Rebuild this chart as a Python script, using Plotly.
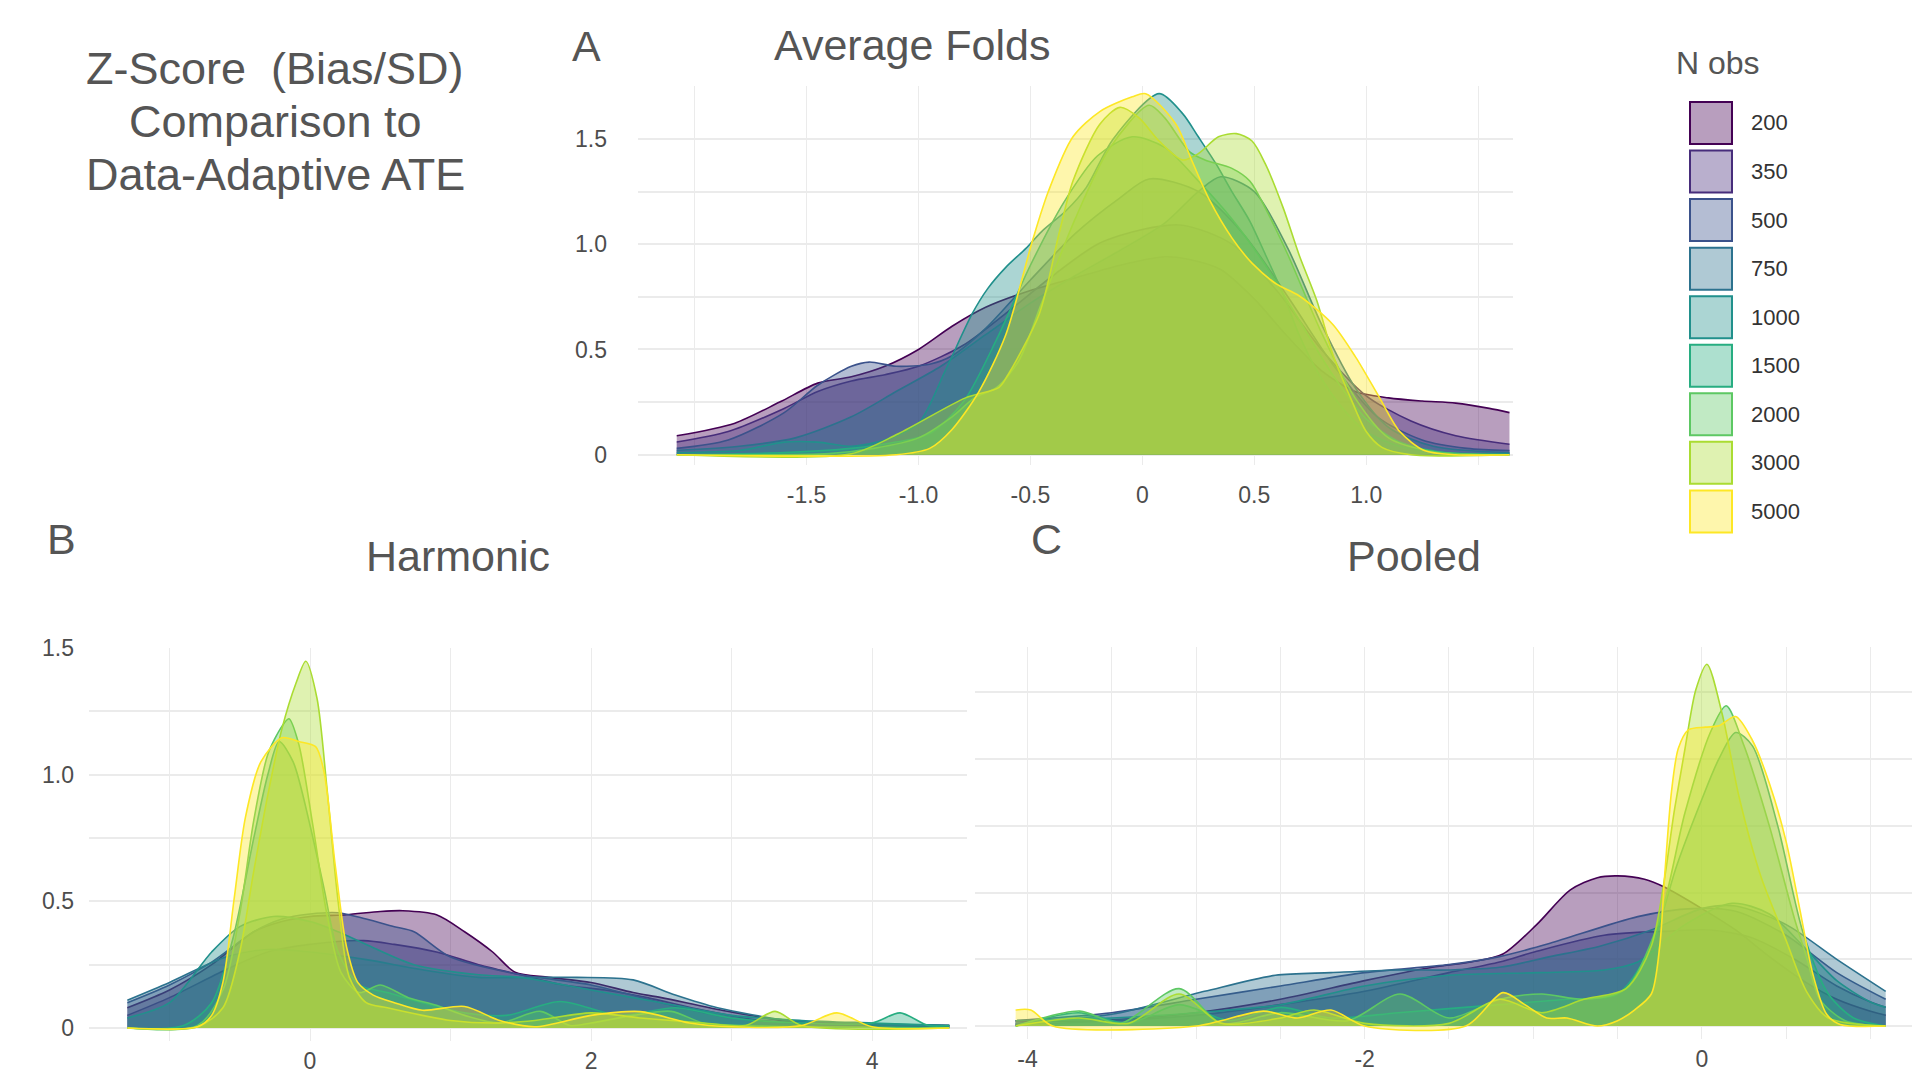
import plotly.graph_objects as go

N_OBS = [200, 350, 500, 750, 1000, 1500, 2000, 3000, 5000]
COLORS = ['#440154', '#472D7B', '#3B528B', '#2C728E', '#21908C',
          '#27AD81', '#5DC863', '#AADC32', '#FDE725']

# density curves, (z-score, density) per N obs
avg_folds = {
    200: [(-2.08, 0.09), (-1.82, 0.15), (-1.62, 0.25), (-1.45, 0.34), (-1.3, 0.37), (-1.15, 0.42),
          (-1.0, 0.5), (-0.85, 0.61), (-0.7, 0.7), (-0.5, 0.78), (-0.3, 0.84), (-0.1, 0.9), (0.1, 0.94),
          (0.2, 0.93), (0.35, 0.88), (0.5, 0.74), (0.65, 0.56), (0.8, 0.4), (0.95, 0.3), (1.1, 0.27),
          (1.25, 0.255), (1.4, 0.245), (1.55, 0.22), (1.64, 0.2)],
    350: [(-2.08, 0.06), (-1.85, 0.11), (-1.6, 0.22), (-1.45, 0.3), (-1.3, 0.35), (-1.15, 0.38),
          (-1.0, 0.42), (-0.8, 0.52), (-0.6, 0.68), (-0.4, 0.85), (-0.2, 1.0), (0.0, 1.07), (0.18, 1.09),
          (0.4, 1.0), (0.6, 0.78), (0.8, 0.5), (1.0, 0.28), (1.2, 0.16), (1.4, 0.09), (1.64, 0.05)],
    500: [(-2.08, 0.03), (-1.85, 0.07), (-1.6, 0.2), (-1.45, 0.33), (-1.3, 0.42), (-1.22, 0.44),
          (-1.1, 0.42), (-0.95, 0.43), (-0.85, 0.47), (-0.7, 0.6), (-0.5, 0.83), (-0.3, 1.05),
          (-0.1, 1.22), (0.03, 1.31), (0.25, 1.25), (0.45, 1.05), (0.65, 0.75), (0.85, 0.43),
          (1.05, 0.18), (1.25, 0.07), (1.45, 0.03), (1.64, 0.02)],
    750: [(-2.08, 0.02), (-1.8, 0.04), (-1.55, 0.08), (-1.3, 0.18), (-1.1, 0.3), (-0.9, 0.42),
          (-0.7, 0.57), (-0.5, 0.72), (-0.3, 0.85), (-0.1, 0.97), (0.1, 1.1), (0.25, 1.25),
          (0.35, 1.32), (0.5, 1.25), (0.65, 0.98), (0.8, 0.62), (0.95, 0.32), (1.1, 0.13),
          (1.3, 0.04), (1.64, 0.01)],
    1000: [(-2.08, 0.01), (-1.8, 0.02), (-1.6, 0.06), (-1.45, 0.06), (-1.3, 0.04), (-1.15, 0.07),
           (-1.0, 0.15), (-0.88, 0.4), (-0.76, 0.67), (-0.69, 0.79), (-0.61, 0.89), (-0.52, 0.98),
           (-0.45, 1.06), (-0.34, 1.16), (-0.25, 1.27), (-0.13, 1.5), (0.075, 1.715), (0.18, 1.62),
           (0.25, 1.51), (0.33, 1.38), (0.4, 1.25), (0.48, 1.11), (0.55, 0.95), (0.63, 0.76),
           (0.7, 0.57), (0.79, 0.38), (0.88, 0.24), (1.0, 0.11), (1.15, 0.04), (1.35, 0.01),
           (1.64, 0.005)],
    1500: [(-2.08, 0.0), (-1.6, 0.01), (-1.3, 0.03), (-1.1, 0.06), (-0.95, 0.1), (-0.8, 0.25),
           (-0.65, 0.55), (-0.5, 0.9), (-0.35, 1.2), (-0.2, 1.42), (-0.045, 1.51), (0.1, 1.46),
           (0.25, 1.3), (0.4, 1.12), (0.55, 0.9), (0.7, 0.64), (0.85, 0.38), (1.0, 0.17),
           (1.15, 0.06), (1.35, 0.01), (1.64, 0.0)],
    2000: [(-2.08, 0.0), (-1.4, 0.005), (-1.2, 0.03), (-1.0, 0.08), (-0.85, 0.18), (-0.75, 0.27),
           (-0.65, 0.32), (-0.55, 0.45), (-0.45, 0.72), (-0.3, 1.12), (-0.15, 1.45), (0.03, 1.66),
           (0.1, 1.6), (0.21, 1.44), (0.28, 1.4), (0.4, 1.36), (0.48, 1.3), (0.55, 1.17),
           (0.65, 0.95), (0.8, 0.58), (0.95, 0.27), (1.1, 0.08), (1.3, 0.015), (1.64, 0.0)],
    3000: [(-2.08, 0.0), (-1.3, 0.005), (-1.09, 0.1), (-0.79, 0.27), (-0.64, 0.32), (-0.6, 0.38),
           (-0.46, 0.67), (-0.37, 1.06), (-0.31, 1.3), (-0.19, 1.57), (-0.1, 1.65), (-0.015, 1.6),
           (0.075, 1.49), (0.18, 1.4), (0.25, 1.43), (0.34, 1.51), (0.42, 1.525), (0.49, 1.49),
           (0.55, 1.38), (0.63, 1.17), (0.7, 0.95), (0.78, 0.73), (0.85, 0.48), (0.93, 0.27),
           (1.0, 0.11), (1.07, 0.035), (1.2, 0.0), (1.64, 0.0)],
    5000: [(-2.08, 0.0), (-1.1, 0.0), (-0.95, 0.03), (-0.85, 0.12), (-0.73, 0.3), (-0.61, 0.57),
           (-0.49, 1.02), (-0.42, 1.25), (-0.31, 1.51), (-0.19, 1.63), (-0.045, 1.7), (0.015, 1.715),
           (0.15, 1.57), (0.22, 1.4), (0.3, 1.21), (0.4, 1.03), (0.49, 0.91), (0.6, 0.81),
           (0.7, 0.755), (0.85, 0.62), (0.955, 0.46), (1.06, 0.27), (1.15, 0.11), (1.26, 0.02),
           (1.4, 0.0), (1.64, 0.0)],
}

harmonic = {
    200: [(-1.3, 0.08), (-1.0, 0.15), (-0.7, 0.25), (-0.4, 0.38), (-0.2, 0.42), (0.0, 0.44),
          (0.26, 0.447), (0.5, 0.46), (0.66, 0.463), (0.9, 0.447), (1.1, 0.38), (1.3, 0.3),
          (1.46, 0.22), (1.7, 0.2), (2.0, 0.18), (2.3, 0.14), (2.5, 0.12), (2.97, 0.066),
          (3.5, 0.02), (4.0, 0.015), (4.55, 0.01)],
    350: [(-1.3, 0.05), (-1.0, 0.12), (-0.6, 0.23), (-0.3, 0.3), (0.0, 0.33), (0.38, 0.345),
          (0.6, 0.33), (0.9, 0.3), (1.2, 0.25), (1.5, 0.21), (1.8, 0.17), (2.1, 0.15), (2.4, 0.12),
          (2.8, 0.07), (3.2, 0.03), (3.6, 0.015), (4.55, 0.005)],
    500: [(-1.3, 0.1), (-1.0, 0.17), (-0.7, 0.26), (-0.4, 0.38), (-0.2, 0.43), (0.0, 0.45),
          (0.2, 0.455), (0.4, 0.43), (0.6, 0.4), (0.74, 0.38), (1.0, 0.28), (1.5, 0.21),
          (2.0, 0.17), (2.5, 0.1), (3.0, 0.04), (3.5, 0.02), (4.55, 0.01)],
    750: [(-1.3, 0.11), (-1.0, 0.18), (-0.6, 0.28), (-0.3, 0.31), (0.0, 0.3), (0.4, 0.27),
          (0.8, 0.23), (1.2, 0.2), (1.6, 0.2), (1.9, 0.2), (2.3, 0.19), (2.6, 0.13), (2.9, 0.08),
          (3.4, 0.03), (3.8, 0.02), (4.55, 0.01)],
    1000: [(-1.3, 0.04), (-1.0, 0.1), (-0.7, 0.3), (-0.5, 0.4), (-0.26, 0.44), (0.0, 0.42),
           (0.2, 0.38), (0.4, 0.33), (0.74, 0.25), (1.2, 0.21), (1.5, 0.2), (2.0, 0.15),
           (2.5, 0.1), (3.0, 0.05), (3.5, 0.03), (4.0, 0.02), (4.55, 0.01)],
    1500: [(-1.3, 0.0), (-0.9, 0.01), (-0.7, 0.1), (-0.55, 0.35), (-0.4, 0.75), (-0.3, 1.0),
           (-0.22, 1.13), (-0.12, 1.05), (0.0, 0.8), (0.1, 0.55), (0.2, 0.3), (0.35, 0.17),
           (0.55, 0.14), (0.8, 0.1), (1.1, 0.06), (1.4, 0.05), (1.78, 0.105), (2.2, 0.05),
           (2.6, 0.08), (3.0, 0.04), (3.5, 0.02), (4.0, 0.02), (4.2, 0.06), (4.4, 0.01),
           (4.55, 0.01)],
    2000: [(-1.3, 0.0), (-0.8, 0.01), (-0.62, 0.15), (-0.5, 0.45), (-0.4, 0.82), (-0.3, 1.08),
           (-0.2, 1.19), (-0.15, 1.22), (-0.08, 1.12), (0.02, 0.8), (0.12, 0.45), (0.22, 0.22),
           (0.35, 0.14), (0.5, 0.17), (0.7, 0.12), (0.9, 0.09), (1.1, 0.05), (1.35, 0.02),
           (1.64, 0.066), (1.85, 0.01), (2.0, 0.02), (2.3, 0.05), (2.57, 0.066), (2.8, 0.02),
           (3.1, 0.01), (3.5, 0.005), (4.55, 0.0)],
    3000: [(-1.3, 0.0), (-0.8, 0.005), (-0.62, 0.08), (-0.5, 0.3), (-0.4, 0.62), (-0.3, 0.92),
           (-0.2, 1.18), (-0.1, 1.36), (-0.03, 1.447), (0.05, 1.3), (0.12, 0.95), (0.2, 0.5),
           (0.28, 0.2), (0.4, 0.1), (0.55, 0.08), (0.8, 0.05), (1.0, 0.03), (1.3, 0.02),
           (1.6, 0.03), (2.0, 0.06), (2.35, 0.04), (2.8, 0.02), (3.1, 0.01), (3.31, 0.066),
           (3.5, 0.01), (4.55, 0.0)],
    5000: [(-1.3, 0.0), (-0.8, 0.005), (-0.7, 0.05), (-0.62, 0.18), (-0.54, 0.51), (-0.46, 0.83),
           (-0.35, 1.05), (-0.2, 1.145), (-0.08, 1.13), (0.04, 1.11), (0.1, 1.01), (0.18, 0.64),
           (0.26, 0.32), (0.34, 0.18), (0.45, 0.13), (0.6, 0.1), (0.8, 0.07), (1.1, 0.085),
           (1.35, 0.03), (1.6, 0.005), (2.0, 0.05), (2.35, 0.065), (2.7, 0.02), (3.0, 0.005),
           (3.5, 0.01), (3.75, 0.06), (4.0, 0.005), (4.55, 0.0)],
}

pooled = {
    200: [(-4.07, 0.02), (-3.6, 0.02), (-3.0, 0.05), (-2.5, 0.1), (-2.0, 0.17), (-1.6, 0.22),
          (-1.37, 0.24), (-1.18, 0.27), (-0.98, 0.38), (-0.78, 0.51), (-0.62, 0.556), (-0.5, 0.5625),
          (-0.34, 0.55), (-0.22, 0.52), (0.0, 0.44), (0.2, 0.36), (0.4, 0.26), (0.6, 0.17),
          (0.8, 0.1), (1.0, 0.055), (1.09, 0.04)],
    350: [(-4.07, 0.005), (-3.5, 0.02), (-3.0, 0.04), (-2.5, 0.08), (-2.0, 0.13), (-1.5, 0.2),
          (-1.2, 0.24), (-0.98, 0.28), (-0.58, 0.34), (-0.18, 0.356), (0.05, 0.36), (0.3, 0.33),
          (0.55, 0.25), (0.8, 0.15), (1.0, 0.09), (1.09, 0.07)],
    500: [(-4.07, 0.02), (-3.5, 0.05), (-3.0, 0.1), (-2.5, 0.15), (-2.0, 0.2), (-1.5, 0.23),
          (-1.2, 0.26), (-0.9, 0.31), (-0.38, 0.41), (-0.06, 0.44), (0.2, 0.43), (0.5, 0.34),
          (0.8, 0.2), (1.09, 0.1)],
    750: [(-4.07, 0.01), (-3.5, 0.044), (-2.95, 0.13), (-2.53, 0.19), (-2.2, 0.2), (-1.82, 0.21),
          (-1.5, 0.21), (-1.2, 0.22), (-0.9, 0.26), (-0.6, 0.3), (-0.3, 0.36), (0.0, 0.44),
          (0.2, 0.45), (0.5, 0.38), (0.8, 0.25), (1.09, 0.13)],
    1000: [(-4.07, 0.02), (-3.5, 0.03), (-3.0, 0.05), (-2.5, 0.08), (-2.0, 0.15), (-1.5, 0.19),
           (-0.98, 0.2), (-0.58, 0.21), (-0.38, 0.24), (-0.1, 0.38), (0.18, 0.46), (0.4, 0.42),
           (0.6, 0.3), (0.8, 0.17), (1.0, 0.09), (1.09, 0.07)],
    1500: [(-4.07, 0.0), (-3.7, 0.05), (-3.4, 0.01), (-3.1, 0.08), (-2.8, 0.02), (-2.5, 0.07),
           (-2.2, 0.03), (-1.8, 0.05), (-1.2, 0.08), (-0.8, 0.1), (-0.5, 0.12), (-0.3, 0.3),
           (-0.15, 0.6), (0.0, 0.85), (0.1, 1.0), (0.2, 1.1), (0.3, 1.05), (0.45, 0.75),
           (0.6, 0.35), (0.75, 0.12), (0.9, 0.03), (1.09, 0.0)],
    2000: [(-4.07, 0.0), (-3.69, 0.056), (-3.45, 0.01), (-3.1, 0.14), (-2.85, 0.01), (-2.5, 0.05),
           (-2.1, 0.02), (-1.79, 0.12), (-1.5, 0.03), (-1.2, 0.1), (-0.95, 0.12), (-0.7, 0.1),
           (-0.45, 0.14), (-0.25, 0.4), (-0.1, 0.8), (0.05, 1.1), (0.144, 1.2), (0.25, 1.05),
           (0.4, 0.75), (0.55, 0.4), (0.62, 0.26), (0.7, 0.1), (0.85, 0.02), (1.09, 0.0)],
    3000: [(-4.07, 0.0), (-3.7, 0.03), (-3.4, 0.01), (-3.1, 0.12), (-2.85, 0.01), (-2.5, 0.03),
           (-2.3, 0.06), (-2.0, 0.01), (-1.5, 0.01), (-1.2, 0.1), (-0.95, 0.05), (-0.7, 0.1),
           (-0.45, 0.14), (-0.3, 0.3), (-0.16, 0.82), (-0.1, 1.04), (-0.036, 1.26), (0.03, 1.356),
           (0.12, 1.17), (0.22, 0.86), (0.35, 0.56), (0.5, 0.32), (0.62, 0.13), (0.75, 0.03),
           (1.09, 0.0)],
    5000: [(-4.07, 0.06), (-3.98, 0.06), (-3.85, 0.0), (-3.0, 0.0), (-2.6, 0.056), (-2.4, 0.03),
           (-2.2, 0.06), (-2.0, 0.0), (-1.4, 0.0), (-1.18, 0.125), (-1.05, 0.08), (-0.92, 0.03),
           (-0.8, 0.03), (-0.62, 0.0), (-0.5, 0.02), (-0.4, 0.06), (-0.3, 0.12), (-0.25, 0.3),
           (-0.22, 0.57), (-0.18, 0.88), (-0.14, 1.04), (-0.08, 1.11), (0.02, 1.12), (0.1, 1.125),
           (0.2, 1.16), (0.3, 1.07), (0.4, 0.91), (0.5, 0.69), (0.58, 0.44), (0.66, 0.19),
           (0.74, 0.044), (0.82, 0.006), (1.09, 0.0)],
}

TITLE_LINES = ['Z-Score \u00a0(Bias/SD)', 'Comparison to', 'Data-Adaptive ATE']

FONT = 'Liberation Sans, Arial, sans-serif'
TITLE_COLOR = '#555555'
TICK_COLOR = '#4d4d4d'
GRID = '#ebebeb'
W, H = 1920, 1080
PAGE = 8  # the page margin the browser puts round the plot div


def rgba(hex_color, alpha):
    h = hex_color.lstrip('#')
    r, g, b = int(h[0:2], 16), int(h[2:4], 16), int(h[4:6], 16)
    return 'rgba({},{},{},{})'.format(r, g, b, alpha)


def xdom(left, right):
    return [(left - PAGE) / W, min(1.0, (right - PAGE) / W)]


def ydom(top, bottom):
    # top / bottom given in figure pixels
    return [1 - bottom / H, 1 - top / H]


def addPanel(fig, curves, xaxis, yaxis):
    for n, color in zip(N_OBS, COLORS):
        pts = curves[n]
        fig.add_trace(go.Scatter(
            x=[p[0] for p in pts], y=[p[1] for p in pts],
            mode='lines', line=dict(color=color, width=1.6, shape='spline', smoothing=0.8),
            fill='tozeroy', fillcolor=rgba(color, 0.38),
            xaxis=xaxis, yaxis=yaxis, showlegend=False, hoverinfo='skip'))


def main():
    fig = go.Figure()
    addPanel(fig, avg_folds, 'x', 'y')
    addPanel(fig, harmonic, 'x2', 'y2')
    addPanel(fig, pooled, 'x3', 'y3')

    # legend drawn as its own little panel
    fig.add_trace(go.Scatter(
        x=[0] * len(N_OBS), y=list(range(len(N_OBS))), mode='markers',
        marker=dict(symbol='square', size=42, color=[rgba(c, 0.38) for c in COLORS],
                    line=dict(color=COLORS, width=2)),
        xaxis='x4', yaxis='y4', showlegend=False, hoverinfo='skip'))

    tickfont = dict(family=FONT, size=23, color=TICK_COLOR)
    common = dict(showline=False, zeroline=False, ticks='', tickfont=tickfont, fixedrange=True)
    xgrid = dict(showgrid=True, gridcolor=GRID, gridwidth=1)
    ygrid = dict(showgrid=True, gridcolor=GRID, gridwidth=1.6)

    fig.update_layout(
        width=W, height=H,
        paper_bgcolor='white', plot_bgcolor='white',
        margin=dict(l=0, r=0, t=0, b=0),
        xaxis=dict(domain=xdom(638, 1512.6), range=[-2.253, 1.654], anchor='y',
                   tickmode='array', tickvals=[-2, -1.5, -1, -0.5, 0, 0.5, 1, 1.5],
                   ticktext=['', '-1.5', '-1.0', '-0.5', '0', '0.5', '1.0', ''],
                   ticklabelstandoff=14, **xgrid, **common),
        yaxis=dict(domain=ydom(66.2, 450.5), range=[-0.05, 1.75], anchor='x',
                   tickmode='array', tickvals=[0, 0.25, 0.5, 0.75, 1, 1.25, 1.5, 1.75],
                   ticktext=['0', '', '0.5', '', '1.0', '', '1.5', ''],
                   ticklabelstandoff=30, **ygrid, **common),
        xaxis2=dict(domain=xdom(89, 967), range=[-1.573, 4.676], anchor='y2',
                    tickmode='array', tickvals=[-1, 0, 1, 2, 3, 4],
                    ticktext=['', '0', '', '2', '', '4'],
                    ticklabelstandoff=4, **xgrid, **common),
        yaxis2=dict(domain=ydom(635.6, 1034.1), range=[-0.05, 1.5], anchor='x2',
                    tickmode='array', tickvals=[0, 0.25, 0.5, 0.75, 1, 1.25, 1.5],
                    ticktext=['0', '', '0.5', '', '1.0', '', '1.5'],
                    ticklabelstandoff=14, **ygrid, **common),
        xaxis3=dict(domain=xdom(975, 1928), range=[-4.311, 1.341], anchor='y3',
                    tickmode='array', tickvals=[-4, -3.5, -3, -2.5, -2, -1.5, -1, -0.5, 0, 0.5, 1],
                    ticktext=['-4', '', '', '', '-2', '', '', '', '0', '', ''],
                    ticklabelstandoff=4, **xgrid, **common),
        yaxis3=dict(domain=ydom(635.3, 1032.7), range=[-0.05, 1.4186], anchor='x3',
                    tickmode='array', tickvals=[0, 0.25, 0.5, 0.75, 1, 1.25],
                    showticklabels=False, **ygrid, **common),
        xaxis4=dict(domain=[0.86, 0.96], range=[-0.2698, 0.7302], anchor='y4',
                    visible=False, fixedrange=True),
        yaxis4=dict(domain=ydom(78.8, 521.9), range=[8.5, -0.5], anchor='x4',
                    visible=False, fixedrange=True),
    )

    annotations = []
    for i, line in enumerate(TITLE_LINES):
        annotations.append(dict(text=line, x=267 / W, y=1 - (48.6 + 53.3 * i) / H,
                                xref='paper', yref='paper', showarrow=False,
                                xanchor='center', yanchor='middle',
                                font=dict(family=FONT, size=45, color=TITLE_COLOR)))
    panelText = [('A', 578.5, 25), ('Average Folds', 903.5, 24.7),
                 ('B', 53.6, 525.6), ('Harmonic', 449.5, 542.6),
                 ('C', 1038.5, 525.6), ('Pooled', 1406, 542.6)]
    for text, px_, py_ in panelText:
        annotations.append(dict(text=text, x=px_ / W, y=1 - py_ / H,
                                xref='paper', yref='paper', showarrow=False,
                                xanchor='center', yanchor='middle',
                                font=dict(family=FONT, size=43, color=TITLE_COLOR)))
    annotations.append(dict(text='N obs', x=1709.5 / W, y=1 - 42.6 / H,
                            xref='paper', yref='paper', showarrow=False,
                            xanchor='center', yanchor='middle',
                            font=dict(family=FONT, size=32, color=TITLE_COLOR)))
    for i, n in enumerate(N_OBS):
        annotations.append(dict(text=str(n), x=1741 / W, y=i, xref='paper', yref='y4',
                                showarrow=False, xanchor='left', yanchor='middle',
                                font=dict(family='Liberation Sans Narrow, ' + FONT, size=22,
                                          color='#333333')))
    fig.update_layout(annotations=annotations)

    fig.write_html('out.html')


if __name__ == '__main__':
    main()
